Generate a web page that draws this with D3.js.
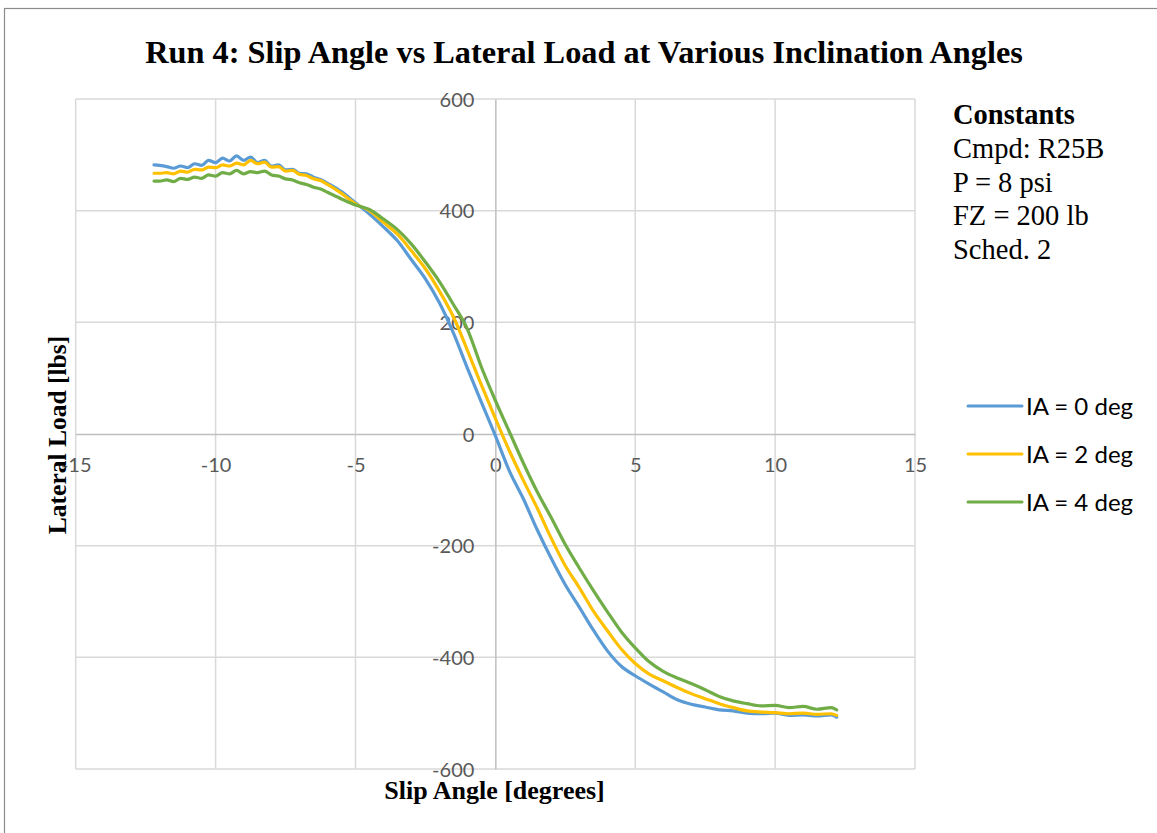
<!DOCTYPE html>
<html>
<head>
<meta charset="utf-8">
<script src="https://cdn.jsdelivr.net/npm/d3@7/dist/d3.min.js"></script>
<style>
  html, body { margin: 0; padding: 0; background: #fff; }
  svg { display: block; }
</style>
</head>
<body>
<svg id="chart" width="1157" height="833"></svg>
<script>
// ---------------- DATA ----------------
const title = "Run 4: Slip Angle vs Lateral Load at Various Inclination Angles";
const xAxisTitle = "Slip Angle [degrees]";
const yAxisTitle = "Lateral Load [lbs]";
const seriesNames = ["IA = 0 deg", "IA = 2 deg", "IA = 4 deg"];
const constantsTitle = "Constants";
const constantsLines = ["Cmpd: R25B", "P = 8 psi", "FZ = 200 lb", "Sched. 2"];
const xTicks = [-15, -10, -5, 0, 5, 10, 15];
const yTicks = [-600, -400, -200, 0, 200, 400, 600];

const slipAngle = [-12.2, -12, -11.75, -11.5, -11.25, -11, -10.75, -10.5, -10.25, -10,
  -9.75, -9.5, -9.25, -9, -8.75, -8.5, -8.25, -8, -7.75, -7.5, -7.25, -7, -6.75, -6.5, -6.25, -6,
  -5.5, -5, -4.5, -4, -3.5, -3, -2.5, -2, -1.5, -1, -0.5, 0, 0.5, 1, 1.5, 2, 2.5, 3, 3.5, 4,
  4.5, 5, 5.5, 6, 6.5, 7, 7.5, 8, 8.5, 9, 9.5, 10, 10.5, 11, 11.5, 12, 12.2];

const loadIA0 = [482, 481, 479, 476, 480, 477, 484, 481, 490, 486,
  494, 489, 498, 490, 496, 486, 490, 480, 482, 473, 474, 467, 466, 460, 456, 449,
  434, 414, 394, 371, 346, 312, 278, 235, 181, 118, 57, -3, -66, -116, -172, -223, -270, -310, -351, -388,
  -416, -433, -448, -462, -476, -484, -489, -494, -496, -500, -501, -500, -504, -503, -505, -503, -507];

const loadIA2 = [467, 467, 468, 466, 471, 469, 474, 473, 478, 477,
  482, 480, 485, 482, 490, 484, 487, 478, 479, 471, 472, 465, 463, 457, 454, 447,
  431, 412, 400, 379, 358, 328, 296, 256, 210, 150, 88, 28, -30, -83, -133, -187, -236, -275, -317, -352,
  -385, -411, -430, -442, -454, -465, -474, -483, -490, -496, -498, -499, -501, -500, -502, -501, -504];

const loadIA4 = [453, 453, 455, 452, 458, 456, 460, 458, 464, 462,
  468, 466, 472, 466, 470, 468, 471, 464, 462, 457, 455, 450, 447, 442, 439, 433,
  421, 410, 402, 385, 366, 340, 308, 273, 232, 188, 120, 60, 4, -52, -104, -150, -198, -240, -280, -318,
  -354, -383, -408, -425, -437, -447, -458, -470, -478, -483, -487, -486, -490, -488, -493, -490, -494];

const seriesColors = ["#5b9bd5", "#ffc000", "#70ad47"];
const seriesValues = [loadIA0, loadIA2, loadIA4];

// ---------------- DRAW ----------------
const svg = d3.select("#chart");

// outer chart border
svg.append("rect")
  .attr("x", 4.5).attr("y", 8.5)
  .attr("width", 1160).attr("height", 840)
  .attr("fill", "none").attr("stroke", "#8c8c8c").attr("stroke-width", 1.2);

const x = d3.scaleLinear().domain([-15, 15]).range([75.7, 915]);
const y = d3.scaleLinear().domain([-600, 600]).range([769, 99]);

// gridlines
const grid = svg.append("g");
grid.selectAll("line.v").data(xTicks.filter(d => d !== 0)).join("line")
  .attr("x1", d => x(d)).attr("x2", d => x(d))
  .attr("y1", y(600)).attr("y2", y(-600))
  .attr("stroke", "#d9d9d9").attr("stroke-width", 1.5);
grid.selectAll("line.h").data(yTicks.filter(d => d !== 0)).join("line")
  .attr("x1", x(-15)).attr("x2", x(15))
  .attr("y1", d => y(d)).attr("y2", d => y(d))
  .attr("stroke", "#d9d9d9").attr("stroke-width", 1.5);

const fmt = d => String(d);

// axes (zero lines) via d3 axes
const xAxis = d3.axisBottom(x).tickValues(xTicks).tickSize(0).tickPadding(0).tickFormat(fmt);
const gx = svg.append("g").attr("transform", `translate(0,${y(0)})`).call(xAxis);
gx.select(".domain").attr("stroke", "#bfbfbf").attr("stroke-width", 1.5);
gx.selectAll(".tick text")
  .attr("y", 31).attr("dy", "0.35em")
  .attr("font-family", "Lato, 'Open Sans', sans-serif").attr("font-size", 20)
  .attr("fill", "#595959");

const yAxis = d3.axisLeft(y).tickValues(yTicks).tickSize(0).tickPadding(0).tickFormat(fmt);
const gy = svg.append("g").attr("transform", `translate(${x(0)},0)`).call(yAxis);
gy.select(".domain").attr("stroke", "#bfbfbf").attr("stroke-width", 1.5);
gy.selectAll(".tick text")
  .attr("x", -21).attr("dy", "0.35em")
  .attr("font-family", "Lato, 'Open Sans', sans-serif").attr("font-size", 20)
  .attr("fill", "#595959");

// series lines
const line = d3.line()
  .x((d, i) => x(slipAngle[i]))
  .y(d => y(d))
  .curve(d3.curveMonotoneX);

svg.append("g").selectAll("path").data(seriesValues).join("path")
  .attr("d", d => line(d))
  .attr("fill", "none")
  .attr("stroke", (d, i) => seriesColors[i])
  .attr("stroke-width", 3.2)
  .attr("stroke-linejoin", "round")
  .attr("stroke-linecap", "round");

// title
svg.append("text")
  .attr("x", 584).attr("y", 63)
  .attr("text-anchor", "middle")
  .attr("font-family", "'Liberation Serif', 'Times New Roman', serif")
  .attr("font-weight", "bold").attr("font-size", 32.3)
  .attr("fill", "#000")
  .text(title);

// axis titles
svg.append("text")
  .attr("x", 494.5).attr("y", 799)
  .attr("text-anchor", "middle")
  .attr("font-family", "'Liberation Serif', 'Times New Roman', serif")
  .attr("font-weight", "bold").attr("font-size", 26)
  .attr("fill", "#000")
  .text(xAxisTitle);

svg.append("text")
  .attr("transform", "translate(66,435) rotate(-90)")
  .attr("text-anchor", "middle")
  .attr("font-family", "'Liberation Serif', 'Times New Roman', serif")
  .attr("font-weight", "bold").attr("font-size", 25.5)
  .attr("fill", "#000")
  .text(yAxisTitle);

// constants text
const cg = svg.append("g")
  .attr("font-family", "'Liberation Serif', 'Times New Roman', serif")
  .attr("font-size", 28.5).attr("fill", "#000");
cg.append("text").attr("x", 953).attr("y", 124).attr("font-weight", "bold").text(constantsTitle);
cg.selectAll("text.c").data(constantsLines).join("text")
  .attr("class", "c")
  .attr("x", 953).attr("y", (d, i) => 158 + i * 33.5)
  .text(d => d);

// legend
const lg = svg.append("g");
const legendY = d3.scalePoint().domain(seriesNames).range([406, 502]);
lg.selectAll("line").data(seriesNames).join("line")
  .attr("x1", 968).attr("x2", 1022)
  .attr("y1", d => legendY(d)).attr("y2", d => legendY(d))
  .attr("stroke", (d, i) => seriesColors[i])
  .attr("stroke-width", 3).attr("stroke-linecap", "round");
lg.selectAll("text").data(seriesNames).join("text")
  .attr("x", 1026).attr("y", d => legendY(d) + 8.8)
  .attr("font-family", "Lato, 'Open Sans', sans-serif").attr("font-size", 24)
  .attr("fill", "#000")
  .text(d => d);
</script>
</body>
</html>
